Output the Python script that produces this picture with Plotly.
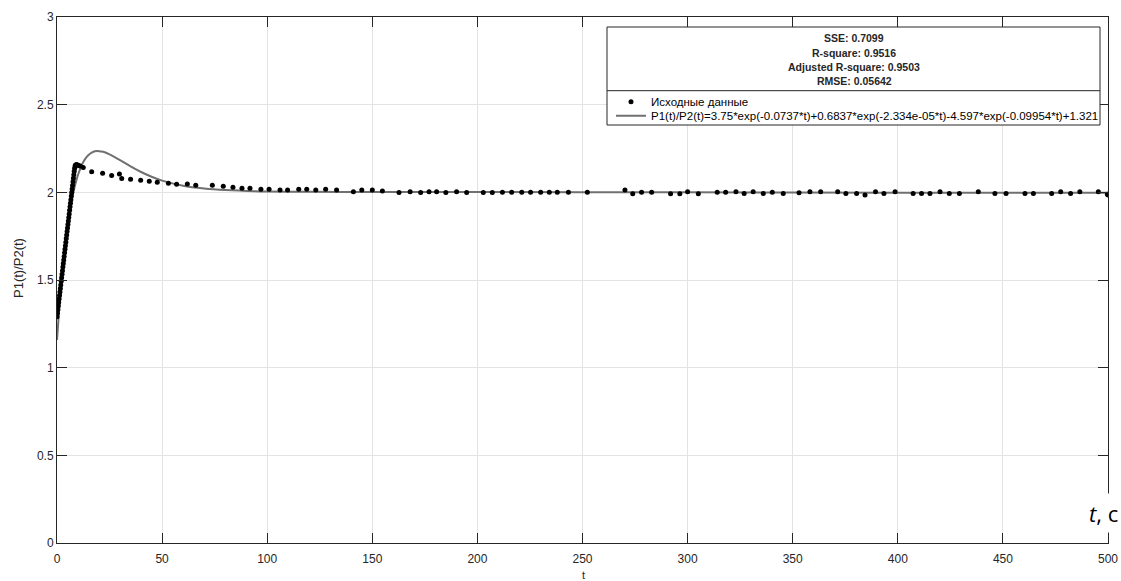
import plotly.graph_objects as go

# ---- data ----
data_t = [0.0, 0.2, 0.4, 0.6, 0.8, 1.0, 1.2, 1.4, 1.6, 1.8, 2.0, 2.2, 2.4, 2.6, 2.8,
          3.0, 3.2, 3.4, 3.6, 3.8, 4.0, 4.2, 4.4, 4.6, 4.8, 5.0, 5.2, 5.4, 5.6, 5.8,
          6.0, 6.2, 6.4, 6.6, 6.8, 7.0, 7.2, 7.4, 7.6, 7.8, 8.0, 8.2, 8.4, 8.6, 8.8,
          9.0, 9.4, 9.8, 10.3, 11.0,
          12.5, 16.5, 21.7, 26.0, 29.7, 30.8, 35.0, 39.8, 43.9, 47.7, 53.0, 56.9,
          62.0, 66.0, 73.9, 79.1, 83.7, 88.0, 91.8, 97.0, 100.9, 106.1, 109.7,
          115.0, 118.8, 123.1, 127.8, 133.0, 141.0, 145.0, 150.0, 154.8, 162.7,
          168.0, 173.0, 177.0, 180.6, 185.0, 190.1, 194.9, 202.8, 207.1, 211.9,
          216.3, 221.1, 225.3, 230.1, 234.2, 238.0, 243.3, 252.3, 270.2, 273.9,
          278.1, 282.9, 291.9, 296.3, 300.0, 305.1, 314.1, 318.1, 323.0, 326.9,
          331.2, 336.0, 340.3, 345.5, 353.0, 358.2, 363.3, 371.4, 375.3, 380.4,
          384.4, 389.4, 393.4, 398.7, 407.3, 411.3, 415.3, 420.1, 424.5, 429.3,
          438.3, 446.2, 451.5, 460.5, 464.5, 473.2, 477.5, 482.2, 486.6, 495.4,
          499.7, 500.0]
data_y = [1.290, 1.310, 1.331, 1.351, 1.371, 1.391, 1.412, 1.432, 1.452, 1.472,
          1.493, 1.513, 1.533, 1.553, 1.574, 1.594, 1.614, 1.634, 1.655, 1.675,
          1.695, 1.715, 1.736, 1.756, 1.776, 1.796, 1.817, 1.837, 1.857, 1.877,
          1.898, 1.918, 1.938, 1.958, 1.979, 1.999, 2.019, 2.039, 2.060, 2.080,
          2.100, 2.120, 2.138, 2.150, 2.155, 2.157, 2.158, 2.156, 2.153, 2.150,
          2.141, 2.118, 2.109, 2.096, 2.105, 2.079, 2.075, 2.069, 2.063, 2.058,
          2.052, 2.046, 2.048, 2.040, 2.040, 2.035, 2.029, 2.023, 2.023, 2.017,
          2.017, 2.014, 2.014, 2.017, 2.017, 2.014, 2.017, 2.014, 2.004, 2.013,
          2.013, 2.008, 1.999, 2.004, 1.999, 2.004, 2.004, 1.999, 2.004, 1.999,
          1.999, 1.999, 2.000, 2.000, 2.000, 2.000, 2.000, 2.000, 2.000, 2.000,
          2.000, 2.013, 1.992, 2.000, 2.000, 1.992, 1.992, 2.003, 1.992, 2.000,
          2.000, 2.004, 1.993, 2.004, 1.993, 2.000, 1.993, 1.997, 2.004, 2.004,
          2.004, 1.993, 1.993, 1.985, 2.004, 1.993, 2.004, 1.993, 1.993, 1.993,
          2.004, 1.993, 1.993, 2.004, 1.993, 1.993, 1.993, 1.993, 1.993, 2.004,
          1.993, 2.004, 2.004, 1.989, 1.985]

fit_t = [0, 1, 2, 3, 4, 5, 6, 7, 8, 9, 10, 11, 12, 13.5, 15, 16.5, 18, 20, 22, 25,
         30, 35, 40, 45, 50, 60, 70, 80, 100, 120, 150, 200, 300, 400, 500]
fit_y = [1.158, 1.326, 1.474, 1.600, 1.710, 1.803, 1.885, 1.953, 2.011, 2.059,
         2.100, 2.133, 2.161, 2.192, 2.213, 2.226, 2.234, 2.235, 2.231, 2.217,
         2.184, 2.148, 2.116, 2.089, 2.067, 2.038, 2.022, 2.013, 2.005, 2.003,
         2.002, 2.0015, 2.000, 1.998, 1.997]

data_name = "Исходные данные"
fit_name = "P1(t)/P2(t)=3.75*exp(-0.0737*t)+0.6837*exp(-2.334e-05*t)-4.597*exp(-0.09954*t)+1.321"
stats_lines = ["SSE: 0.7099", "R-square: 0.9516", "Adjusted R-square: 0.9503", "RMSE: 0.05642"]

x_ticks = [0, 50, 100, 150, 200, 250, 300, 350, 400, 450, 500]
y_ticks = [0, 0.5, 1, 1.5, 2, 2.5, 3]
y_tick_text = ["0", "0.5", "1", "1.5", "2", "2.5", "3"]

# ---- figure ----
W, H = 1121, 581
ML, MR, MT, MB = 57, 13, 17, 38
PW, PH = W - ML - MR, H - MT - MB


def px_x(p):
    return (p - ML) / PW


def px_y(p):
    return (H - MB - p) / PH


AX = "#262626"
FONT = "Liberation Sans, Arial, Helvetica, sans-serif"

fig = go.Figure()
fig.add_trace(go.Scatter(
    x=fit_t, y=fit_y, mode="lines", name=fit_name, legend="legend2",
    line=dict(color="#707070", width=2, shape="spline", smoothing=0.6),
))
fig.add_trace(go.Scatter(
    x=data_t, y=data_y, mode="markers", name=data_name, legend="legend",
    marker=dict(color="black", size=5),
))

axis_common = dict(
    showline=True, linecolor=AX, linewidth=1, mirror="allticks",
    ticks="inside", ticklen=10, tickcolor=AX, tickwidth=1,
    showgrid=True, gridcolor="#e3e3e3", gridwidth=1, zeroline=False,
    tickfont=dict(family=FONT, size=12, color=AX), automargin=False,
)

fig.update_layout(
    width=W, height=H,
    margin=dict(l=ML, r=MR, t=MT, b=MB),
    paper_bgcolor="white", plot_bgcolor="white",
    font=dict(family=FONT, color=AX),
    xaxis=dict(range=[0, 500], tickvals=x_ticks, ticktext=[str(v) for v in x_ticks],
               ticklabelstandoff=5, **axis_common),
    yaxis=dict(range=[0, 3], tickvals=y_ticks, ticktext=y_tick_text,
               **axis_common),
    legend=dict(x=px_x(611), y=px_y(101.7), xanchor="left", yanchor="middle",
                bgcolor="rgba(0,0,0,0)", borderwidth=0,
                font=dict(family=FONT, size=11.5, color="black")),
    legend2=dict(x=px_x(611), y=px_y(115.7), xanchor="left", yanchor="middle",
                 bgcolor="rgba(0,0,0,0)", borderwidth=0,
                 font=dict(family=FONT, size=11.5, color="black")),
    showlegend=True,
)

# axis titles
fig.add_annotation(text="t", xref="paper", yref="paper", x=px_x(583), y=px_y(575),
                   xanchor="center", yanchor="middle", showarrow=False,
                   font=dict(family=FONT, size=11, color=AX))
fig.add_annotation(text="P1(t)/P2(t)", xref="paper", yref="paper", x=px_x(18), y=px_y(268),
                   xanchor="center", yanchor="middle", showarrow=False, textangle=-90,
                   font=dict(family=FONT, size=13, color=AX))

# legend frame with statistics block
fig.add_shape(type="rect", xref="paper", yref="paper",
              x0=px_x(607), x1=px_x(1100), y0=px_y(125), y1=px_y(27),
              line=dict(color=AX, width=1), fillcolor="white", layer="above")
fig.add_shape(type="line", xref="paper", yref="paper",
              x0=px_x(607), x1=px_x(1100), y0=px_y(90.7), y1=px_y(90.7),
              line=dict(color=AX, width=1), layer="above")

for txt, yp in zip(stats_lines, [38, 52.5, 67, 81.5]):
    fig.add_annotation(text="<b>" + txt + "</b>", xref="paper", yref="paper",
                       x=px_x(854), y=px_y(yp), xanchor="center", yanchor="middle",
                       showarrow=False, font=dict(family=FONT, size=10.5, color=AX))

# "t, c" label
fig.add_annotation(text="<i>t</i>, c", xref="paper", yref="paper",
                   x=px_x(1103), y=px_y(512.5), xanchor="center", yanchor="middle",
                   showarrow=False, bgcolor="white", borderpad=4,
                   font=dict(family="Open Sans, sans-serif", size=22, color="black"))

fig.write_html("out.html", config={"displayModeBar": False},
               post_script="document.body.style.margin='0';")
